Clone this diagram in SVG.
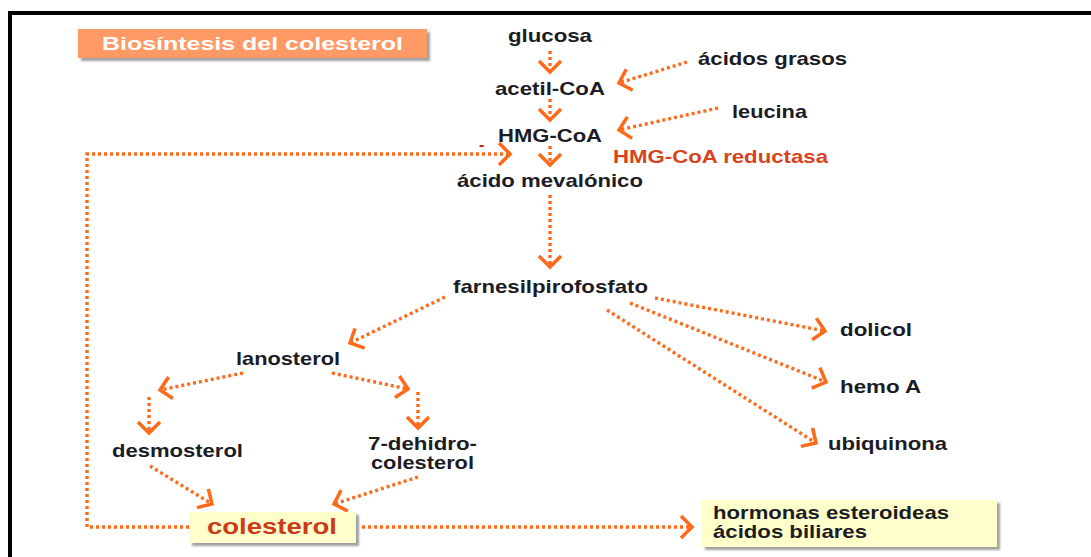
<svg xmlns="http://www.w3.org/2000/svg" width="1091" height="557" viewBox="0 0 1091 557">
<style>
.t{font-family:"Liberation Sans",Arial,sans-serif;font-weight:bold;font-size:19px;fill:#1c1c24}
.red{fill:#D8431C}
.c{fill:none;stroke:#FF6A1A;stroke-width:3.4;stroke-dasharray:3 3}
</style>
<defs>
<marker id="ch" viewBox="-15 -15 30 30" markerWidth="30" markerHeight="30" refX="0" refY="0" orient="auto" markerUnits="userSpaceOnUse">
<path d="M-11,-11 L0,0 L-11,11" fill="none" stroke="#FF6A1A" stroke-width="3.5"/>
</marker>
<filter id="sh" x="-5%" y="-10%" width="115%" height="130%">
<feDropShadow dx="3" dy="3" stdDeviation="1" flood-color="#888" flood-opacity="0.8"/>
</filter>
</defs>
<rect width="1091" height="557" fill="#fff"/>
<rect x="10" y="13" width="1200" height="700" fill="none" stroke="#000" stroke-width="4"/>

<g id="title">
<rect x="78" y="29" width="349" height="29" fill="#FF9966" filter="url(#sh)"/>
<text x="102" y="50" class="t" style="fill:#fff;font-size:18px" textLength="301" lengthAdjust="spacingAndGlyphs">Biosíntesis del colesterol</text>
</g>

<g id="connectors">
<path class="c" d="M550,51 V72" marker-end="url(#ch)"/>
<path class="c" d="M550,99 V120" marker-end="url(#ch)"/>
<path class="c" d="M550,146 V165" marker-end="url(#ch)"/>
<path class="c" d="M687,62 L619,83" marker-end="url(#ch)"/>
<path class="c" d="M718,108 L619,130" marker-end="url(#ch)"/>
<path class="c" d="M189,527 H87 V154 H510" marker-end="url(#ch)"/>
<path class="c" d="M362,527 H692" marker-end="url(#ch)"/>
<path class="c" d="M550,195 V267" marker-end="url(#ch)"/>
<path class="c" d="M445,297 L350,343" marker-end="url(#ch)"/>
<path class="c" d="M655,298 L825,331" marker-end="url(#ch)"/>
<path class="c" d="M630,303 L826,382" marker-end="url(#ch)"/>
<path class="c" d="M607,310 L816,443" marker-end="url(#ch)"/>
<path class="c" d="M243,373 L160,390" marker-end="url(#ch)"/>
<path class="c" d="M332,373 L408,389" marker-end="url(#ch)"/>
<path class="c" d="M149,397 V433" marker-end="url(#ch)"/>
<path class="c" d="M418,392 V428" marker-end="url(#ch)"/>
<path class="c" d="M150,466 L212,504" marker-end="url(#ch)"/>
<path class="c" d="M418,477 L334,504" marker-end="url(#ch)"/>
<text x="479" y="150" class="t" style="fill:#B8281C;font-size:16px">-</text>
</g>

<g id="glucosa"><text x="508" y="42" class="t" textLength="84" lengthAdjust="spacingAndGlyphs">glucosa</text></g>
<g id="acidos-grasos"><text x="698" y="65" class="t" textLength="149" lengthAdjust="spacingAndGlyphs">ácidos grasos</text></g>
<g id="acetil-coa"><text x="495" y="95" class="t" textLength="110" lengthAdjust="spacingAndGlyphs">acetil-CoA</text></g>
<g id="leucina"><text x="732" y="118" class="t" textLength="75" lengthAdjust="spacingAndGlyphs">leucina</text></g>
<g id="hmg-coa"><text x="498" y="142" class="t" textLength="104" lengthAdjust="spacingAndGlyphs">HMG-CoA</text></g>
<g id="reductasa"><text x="613" y="163" class="t red" textLength="215" lengthAdjust="spacingAndGlyphs">HMG-CoA reductasa</text></g>
<g id="mevalonico"><text x="457" y="187" class="t" textLength="186" lengthAdjust="spacingAndGlyphs">ácido mevalónico</text></g>
<g id="farnesil"><text x="453" y="293" class="t" textLength="195" lengthAdjust="spacingAndGlyphs">farnesilpirofosfato</text></g>
<g id="lanosterol"><text x="236" y="365" class="t" textLength="104" lengthAdjust="spacingAndGlyphs">lanosterol</text></g>
<g id="desmosterol"><text x="112" y="457" class="t" textLength="131" lengthAdjust="spacingAndGlyphs">desmosterol</text></g>
<g id="dehidrocolesterol">
<text x="368" y="450" class="t" textLength="109" lengthAdjust="spacingAndGlyphs">7-dehidro-</text>
<text x="371" y="469" class="t" textLength="103" lengthAdjust="spacingAndGlyphs">colesterol</text>
</g>
<g id="dolicol"><text x="840" y="336" class="t" textLength="72" lengthAdjust="spacingAndGlyphs">dolicol</text></g>
<g id="hemo"><text x="840" y="393" class="t" textLength="81" lengthAdjust="spacingAndGlyphs">hemo A</text></g>
<g id="ubiquinona"><text x="828" y="450" class="t" textLength="119" lengthAdjust="spacingAndGlyphs">ubiquinona</text></g>
<g id="colesterol">
<rect x="189" y="512" width="167" height="31" fill="#FFFFCC" filter="url(#sh)"/>
<text x="207" y="534" class="t" style="fill:#CC3A1A;font-size:22px" textLength="130" lengthAdjust="spacingAndGlyphs">colesterol</text>
</g>
<g id="hormonas">
<rect x="702" y="500" width="295" height="47" fill="#FFFFCC" filter="url(#sh)"/>
<text x="713" y="519" class="t" textLength="236" lengthAdjust="spacingAndGlyphs">hormonas esteroideas</text>
<text x="713" y="538" class="t" textLength="154" lengthAdjust="spacingAndGlyphs">ácidos biliares</text>
</g>
</svg>
